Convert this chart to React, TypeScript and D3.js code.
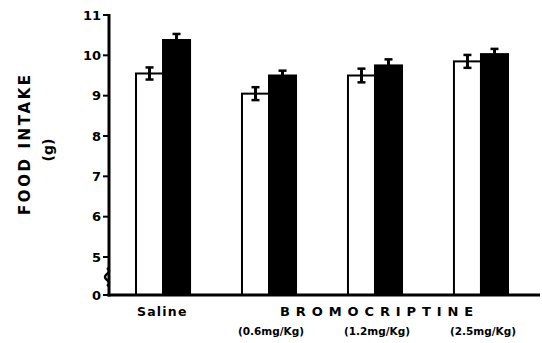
import React from "react";
import * as d3 from "d3";

const groups = ["Saline", "0.6", "1.2", "2.5"];
const doseLabels = ["", "(0.6mg/Kg)", "(1.2mg/Kg)", "(2.5mg/Kg)"];
const series = ["control", "treated"];
const controlMeans = [9.55, 9.05, 9.5, 9.85];
const controlErr = [0.15, 0.16, 0.17, 0.16];
const treatedMeans = [10.38, 9.5, 9.75, 10.03];
const treatedErr = [0.15, 0.12, 0.15, 0.13];
const yTicks = [0, 5, 6, 7, 8, 9, 10, 11];

const W = 542;
const H = 343;
const axisX = 109;
const font = "'DejaVu Sans', Arial, sans-serif";

export default function App() {
  // broken axis: 0..5 squeezed into the bottom
  const y = d3.scaleLinear().domain([0, 5, 11]).range([295, 257, 15]);
  const x = d3
    .scaleBand<string>()
    .domain(groups)
    .range([136, 508])
    .paddingInner(0.49)
    .paddingOuter(0);
  const xs = d3
    .scaleBand<string>()
    .domain(series)
    .range([0, x.bandwidth()]);

  const base = y(0);

  const bars = groups.flatMap((g, i) => [
    { g, s: "control", v: controlMeans[i], e: controlErr[i] },
    { g, s: "treated", v: treatedMeans[i], e: treatedErr[i] },
  ]);

  return (
    <svg
      width={W}
      height={H}
      style={{ position: "absolute", left: 0, top: 0, background: "#fff" }}
    >
      {bars.map((b, i) => {
        const bx = (x(b.g) ?? 0) + (xs(b.s) ?? 0);
        const bw = xs.bandwidth();
        const cx = bx + bw / 2;
        const top = y(b.v);
        const dark = b.s === "treated";
        return (
          <g key={i}>
            <rect
              x={bx}
              y={top}
              width={bw}
              height={base - top}
              fill={dark ? "#000" : "#fff"}
              stroke="#000"
              strokeWidth={2}
            />
            <line x1={cx} x2={cx} y1={y(b.v + b.e)} y2={y(b.v - b.e)} stroke="#000" strokeWidth={3} />
            <line x1={cx - 4} x2={cx + 4} y1={y(b.v + b.e)} y2={y(b.v + b.e)} stroke="#000" strokeWidth={2.5} />
            <line x1={cx - 4} x2={cx + 4} y1={y(b.v - b.e)} y2={y(b.v - b.e)} stroke="#000" strokeWidth={2.5} />
          </g>
        );
      })}

      {/* axes */}
      <line x1={axisX} x2={axisX} y1={y(11) - 1} y2={base + 1.5} stroke="#000" strokeWidth={3} />
      <line x1={axisX - 1.5} x2={540} y1={base} y2={base} stroke="#000" strokeWidth={3} />
      <path
        d={`M${axisX - 2},268 q4,3 0,6 q-4,3 0,6 q4,3 0,6`}
        fill="none"
        stroke="#000"
        strokeWidth={2.5}
      />

      {yTicks.map((t) => (
        <g key={t}>
          <line x1={axisX - 6} x2={axisX} y1={y(t)} y2={y(t)} stroke="#000" strokeWidth={2} />
          <text
            x={axisX - 8}
            y={y(t)}
            dy="0.36em"
            textAnchor="end"
            fontFamily={font}
            fontWeight="bold"
            fontSize={13}
          >
            {t}
          </text>
        </g>
      ))}

      <text
        transform="translate(30,215) rotate(-90)"
        textAnchor="start"
        fontFamily={font}
        fontWeight="bold"
        fontSize={15}
        letterSpacing={2.6}
      >
        FOOD INTAKE
      </text>
      <text
        transform="translate(53,150) rotate(-90)"
        textAnchor="middle"
        fontFamily={font}
        fontWeight="bold"
        fontSize={14}
      >
        (g)
      </text>

      <text
        x={137}
        y={316}
        textAnchor="start"
        fontFamily={font}
        fontWeight="bold"
        fontSize={12.5}
        letterSpacing={1.2}
      >
        Saline
      </text>
      <text
        x={280}
        y={316}
        textAnchor="start"
        fontFamily={font}
        fontWeight="bold"
        fontSize={13}
        letterSpacing={5.9}
      >
        BROMOCRIPTINE
      </text>
      {groups.map((g, i) =>
        doseLabels[i] ? (
          <text
            key={g}
            x={(x(g) ?? 0) + x.bandwidth() / 2 + 2}
            y={335}
            textAnchor="middle"
            fontFamily={font}
            fontWeight="bold"
            fontSize={10.5}
          >
            {doseLabels[i]}
          </text>
        ) : null
      )}
    </svg>
  );
}
